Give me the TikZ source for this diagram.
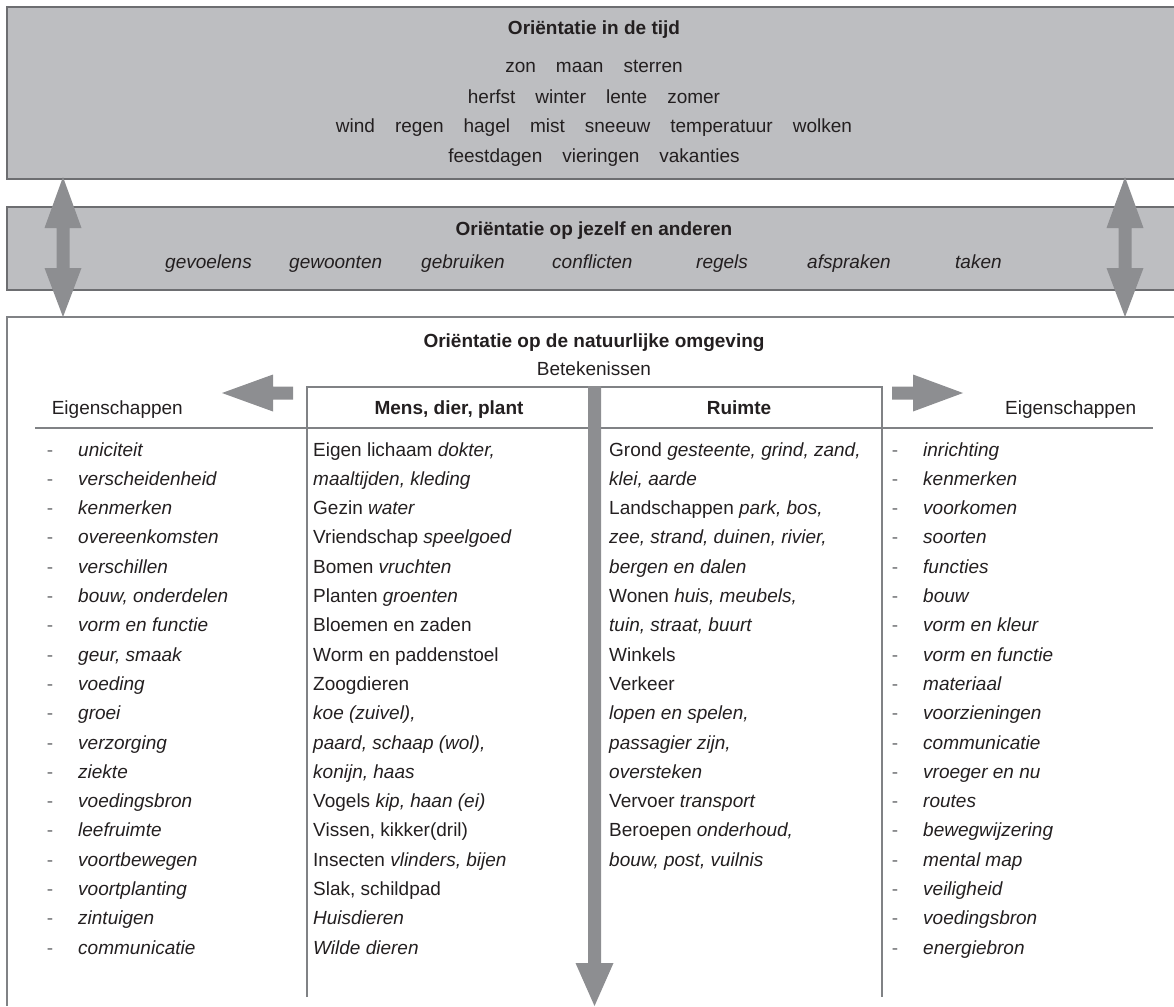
\documentclass[tikz,border=0pt]{standalone}
\usepackage{fontspec}
\setmainfont{Liberation Sans}
\definecolor{boxfill}{HTML}{BDBEC1}
\definecolor{boxline}{HTML}{6D6E71}
\definecolor{arrowc}{HTML}{8D8E91}
\definecolor{textc}{HTML}{231F20}
\definecolor{rulec}{HTML}{808285}
\definecolor{dashc}{HTML}{6D6E71}
\begin{document}
\begin{tikzpicture}[x=1pt,y=-1pt,
  txt/.style={font=\fontsize{19}{23}\selectfont, text=textc, inner sep=0pt},
  btxt/.style={font=\fontsize{19}{23}\selectfont\bfseries, text=textc, inner sep=0pt},
  itxt/.style={font=\fontsize{19}{23}\selectfont\itshape, text=textc, inner sep=0pt},
  dashmark/.style={font=\fontsize{19}{23}\selectfont, text=dashc, inner sep=0pt, anchor=base},
  boxborder/.style={draw=boxline, line width=1.4pt},
  rule/.style={draw=rulec, line width=1.3pt},
  blockarrow/.style={fill=arrowc, draw=none}]
\useasboundingbox (0,0) rectangle (1174,1006);

% ---------- top box: time ----------
\fill[boxfill] (7,7) rectangle (1174,179);
\draw[boxborder] (1174,7) -- (7,7) -- (7,179) -- (1174,179);
\node[btxt, anchor=base] (tijd) at (594,35) {Oriëntatie in de tijd};
\node[txt, anchor=base] (tijd1) at (594,73) {zon\hspace{20pt}maan\hspace{20pt}sterren};
\node[txt, anchor=base] (tijd2) at (594,103) {herfst\hspace{20pt}winter\hspace{20pt}lente\hspace{20pt}zomer};
\node[txt, anchor=base] (tijd3) at (594,132) {wind\hspace{20pt}regen\hspace{20pt}hagel\hspace{20pt}mist\hspace{20pt}sneeuw\hspace{20pt}temperatuur\hspace{20pt}wolken};
\node[txt, anchor=base] (tijd4) at (594,162) {feestdagen\hspace{20pt}vieringen\hspace{20pt}vakanties};

% ---------- middle band: self and others ----------
\fill[boxfill] (7,207) rectangle (1174,290);
\draw[boxborder] (1174,207) -- (7,207) -- (7,290) -- (1174,290);
\node[btxt, anchor=base] (zelf) at (594,235) {Oriëntatie op jezelf en anderen};
\node[itxt, anchor=base west] (z1) at (165,268) {gevoelens};
\node[itxt, anchor=base west] (z2) at (289,268) {gewoonten};
\node[itxt, anchor=base west] (z3) at (421,268) {gebruiken};
\node[itxt, anchor=base west] (z4) at (552,268) {conflicten};
\node[itxt, anchor=base west] (z5) at (696,268) {regels};
\node[itxt, anchor=base west] (z6) at (807,268) {afspraken};
\node[itxt, anchor=base west] (z7) at (955,268) {taken};

% ---------- bottom box: natural environment ----------
\draw[rule, line width=1.4pt] (1174,317) -- (7,317) -- (7,1006);
\node[btxt, anchor=base] (natuur) at (594,347) {Oriëntatie op de natuurlijke omgeving};
\node[txt, anchor=base] (betek) at (594,375) {Betekenissen};

% table lines
\draw[rule] (307,997) -- (307,387) -- (882,387) -- (882,997);
\draw[rule] (35,428) -- (1153,428);

% headers
\node[txt, anchor=base east] (eigL) at (183,414) {Eigenschappen};
\node[btxt, anchor=base] (mens) at (449,414) {Mens, dier, plant};
\node[btxt, anchor=base] (ruimte) at (739,414) {Ruimte};
\node[txt, anchor=base west] (eigR) at (1005,414) {Eigenschappen};

% left properties
\foreach \w [count=\i from 0] in {uniciteit, verscheidenheid, kenmerken, overeenkomsten, verschillen, {bouw, onderdelen}, vorm en functie, {geur, smaak}, voeding, groei, verzorging, ziekte, voedingsbron, leefruimte, voortbewegen, voortplanting, zintuigen, communicatie}{
  \node[dashmark] (ld\i) at (50,456+29.3*\i) {-};
  \node[itxt, anchor=base west] (lt\i) at (78,456+29.3*\i) {\w};
}

% right properties
\foreach \w [count=\i from 0] in {inrichting, kenmerken, voorkomen, soorten, functies, bouw, vorm en kleur, vorm en functie, materiaal, voorzieningen, communicatie, vroeger en nu, routes, bewegwijzering, mental map, veiligheid, voedingsbron, energiebron}{
  \node[dashmark] (rd\i) at (895,456+29.3*\i) {-};
  \node[itxt, anchor=base west] (rt\i) at (923,456+29.3*\i) {\w};
}

% Mens, dier, plant column
\foreach \w [count=\i from 0] in {{Eigen lichaam \textit{dokter,}}, {\textit{maaltijden, kleding}}, {Gezin \textit{water}}, {Vriendschap \textit{speelgoed}}, {Bomen \textit{vruchten}}, {Planten \textit{groenten}}, {Bloemen en zaden}, {Worm en paddenstoel}, {Zoogdieren}, {\textit{koe (zuivel),}}, {\textit{paard, schaap (wol),}}, {\textit{konijn, haas}}, {Vogels \textit{kip, haan (ei)}}, {Vissen, kikker(dril)}, {Insecten \textit{vlinders, bijen}}, {Slak, schildpad}, {\textit{Huisdieren}}, {\textit{Wilde dieren}}}{
  \node[txt, anchor=base west] (mt\i) at (313,456+29.3*\i) {\w};
}

% Ruimte column
\foreach \w [count=\i from 0] in {{Grond \textit{gesteente, grind, zand,}}, {\textit{klei, aarde}}, {Landschappen \textit{park, bos,}}, {\textit{zee, strand, duinen, rivier,}}, {\textit{bergen en dalen}}, {Wonen \textit{huis, meubels,}}, {\textit{tuin, straat, buurt}}, {Winkels}, {Verkeer}, {\textit{lopen en spelen,}}, {\textit{passagier zijn,}}, {\textit{oversteken}}, {Vervoer \textit{transport}}, {Beroepen \textit{onderhoud,}}, {\textit{bouw, post, vuilnis}}}{
  \node[txt, anchor=base west] (rm\i) at (609,456+29.3*\i) {\w};
}

% ---------- block arrows ----------
% double arrows between the bands
\fill[blockarrow] (63,177) -- (81.5,228) -- (69.5,228) -- (69.5,268) -- (81.5,268) -- (63,317)
  -- (44.5,268) -- (56.5,268) -- (56.5,228) -- (44.5,228) -- cycle;
\fill[blockarrow] (1125,177) -- (1143.5,228) -- (1131.5,228) -- (1131.5,268) -- (1143.5,268) -- (1125,317)
  -- (1106.5,268) -- (1118.5,268) -- (1118.5,228) -- (1106.5,228) -- cycle;
% left arrow
\fill[blockarrow] (222,393) -- (273,374.5) -- (273,386.5) -- (293,386.5) -- (293,399.5) -- (273,399.5) -- (273,411.5) -- cycle;
% right arrow
\fill[blockarrow] (963,393) -- (913,374.5) -- (913,386.5) -- (892,386.5) -- (892,399.5) -- (913,399.5) -- (913,411.5) -- cycle;
% down arrow
\fill[blockarrow] (588,386) -- (601,386) -- (601,963) -- (613.5,963) -- (594.5,1006) -- (575.5,963) -- (588,963) -- cycle;
\end{tikzpicture}
\end{document}
